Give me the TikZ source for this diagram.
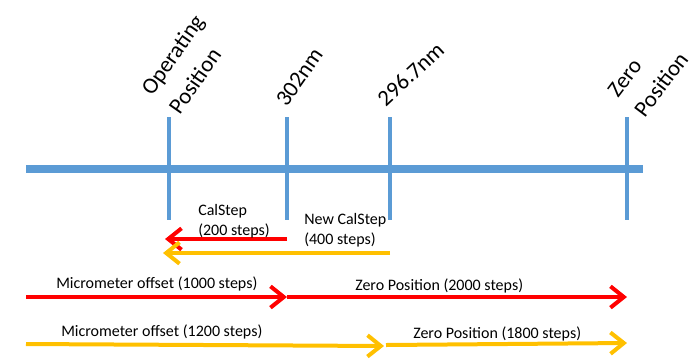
\documentclass[tikz,border=0pt]{standalone}
\usepackage{fontspec}
\setmainfont{Carlito}
\usetikzlibrary{arrows.meta}
\definecolor{axisblue}{HTML}{5B9BD5}
\definecolor{calred}{HTML}{FF0000}
\definecolor{calorange}{HTML}{FFC000}

\begin{document}
\begin{tikzpicture}[x=0.75pt,y=-0.75pt,
  axisline/.style={axisblue,line width=5.8pt},
  tickmark/.style={axisblue,line width=3pt},
  redarr/.style={-{Straight Barb[length=10pt,width=16pt]},calred,line width=3pt},
  orangearr/.style={-{Straight Barb[length=10pt,width=16pt]},calorange,line width=3pt},
  poslabel/.style={rotate=55,anchor=south west,inner sep=0pt,align=left,font=\fontsize{17}{25}\selectfont},
  steplabel/.style={anchor=north west,inner sep=0pt,align=left,font=\fontsize{12}{15}\selectfont},
  rowlabel/.style={anchor=base west,inner sep=0pt,font=\fontsize{12}{15}\selectfont}]
  \useasboundingbox (0,0) rectangle (692,358);

  \coordinate (axL) at (26,169);
  \coordinate (axR) at (643,169);
  \coordinate (opT) at (169,117);
  \coordinate (opB) at (169,220);
  \coordinate (nmaT) at (287,117);
  \coordinate (nmaB) at (287,220);
  \coordinate (nmbT) at (390,117);
  \coordinate (nmbB) at (390,220);
  \coordinate (zeroT) at (627,117);
  \coordinate (zeroB) at (627,220);

  \draw[axisline] (axL) -- (axR);
  \draw[tickmark] (opT) -- (opB);
  \draw[tickmark] (nmaT) -- (nmaB);
  \draw[tickmark] (nmbT) -- (nmbB);
  \draw[tickmark] (zeroT) -- (zeroB);

  \node[poslabel] (oplbl) at (180,116) {Operating\\Position};
  \node[poslabel] (nmalbl) at (287,108) {302nm};
  \node[poslabel,rotate=-12] (nmblbl) at (386,108) {296.7nm};
  \node[poslabel,rotate=-2] (zerolbl) at (645,119) {Zero\\Position};

  \coordinate (cs0) at (287,239);
  \coordinate (cs1) at (165,239);
  \coordinate (ncs0) at (390,253);
  \coordinate (ncs1) at (163,253);
  \draw[redarr] (cs0) -- (cs1);
  \draw[orangearr] (ncs0) -- (ncs1);
  \node[steplabel] (cslbl) at (198,204) {CalStep\\(200 steps)};
  \node[steplabel] (ncslbl) at (304,213) {New CalStep\\(400 steps)};

  \coordinate (r0) at (26,297);
  \coordinate (r1) at (287,297);
  \coordinate (r2) at (627,297);
  \draw[redarr] (r0) -- (r1);
  \draw[redarr] (r1) -- (r2);
  \node[rowlabel] (roff) at (56,288) {Micrometer offset (1000 steps)};
  \node[rowlabel] (rzero) at (355,290) {Zero Position (2000 steps)};

  \coordinate (o0) at (26,344);
  \coordinate (o1) at (384,346);
  \coordinate (o2) at (386,345);
  \coordinate (o3) at (627,343);
  \draw[orangearr] (o0) -- (o1);
  \draw[orangearr] (o2) -- (o3);
  \node[rowlabel] (ooff) at (61,336) {Micrometer offset (1200 steps)};
  \node[rowlabel] (ozero) at (413,338) {Zero Position (1800 steps)};
\end{tikzpicture}
\end{document}
